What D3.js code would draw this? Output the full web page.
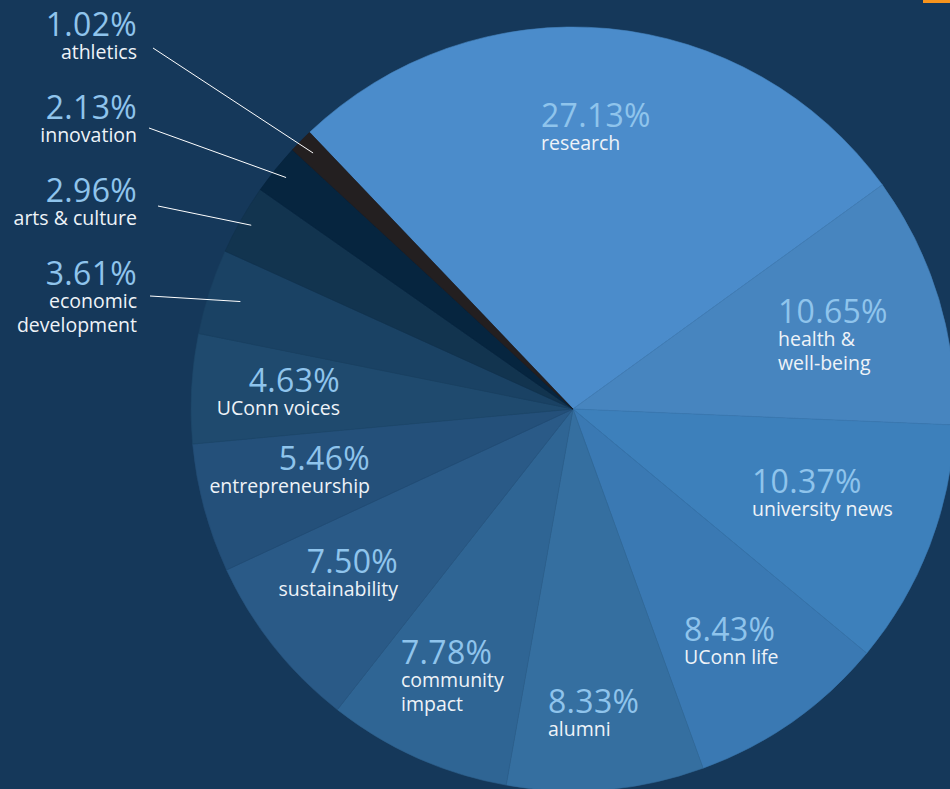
<!DOCTYPE html>
<html>
<head>
<meta charset="utf-8">
<script src="https://cdn.jsdelivr.net/npm/d3@7"></script>
<style>
  html, body { margin: 0; padding: 0; background: #15385a; overflow: hidden; }
  svg { display: block; }
  .pct { font-family: "Open Sans", sans-serif; font-weight: 400; font-size: 32px; fill: #8fc4ec; letter-spacing: 0.3px; }
  .lbl { font-family: "Open Sans", sans-serif; font-size: 19.5px; fill: #eef3f8; }
  .leader { stroke: #ffffff; stroke-width: 1; }
</style>
</head>
<body>
<script>
// topics, clockwise from the top of the pie
var categories = ['research', 'health &\nwell-being', 'university news', 'UConn life', 'alumni',
    'community\nimpact', 'sustainability', 'entrepreneurship', 'UConn voices',
    'economic\ndevelopment', 'arts & culture', 'innovation', 'athletics'];
var shares = [27.13, 10.65, 10.37, 8.43, 8.33, 7.78, 7.50, 5.46, 4.63, 3.61, 2.96, 2.13, 1.02];
var colors = ['#4b8ccb', '#4785bf', '#3d80bb', '#3a79b3', '#356fa0', '#2f6594', '#2a5a87',
    '#24507a', '#1f4a6e', '#1a4264', '#12344f', '#06253f', '#231f20'];

// label placement (anchor x, baseline of the percentage), leader lines for the thin slices
var labelSpots = [
    [541, 127, 'start'], [778, 323, 'start'], [752, 493, 'start'], [684, 641, 'start'],
    [548, 713, 'start'], [401, 664, 'start'], [398, 573, 'end'], [370, 470, 'end'],
    [340, 392, 'end'], [137, 285, 'end'], [137, 202, 'end'], [137, 119, 'end'], [137, 36, 'end']
];
var leaders = { 9: [150, 296, 0.915], 10: [158, 206, 0.97], 11: [149, 128, 0.965], 12: [153, 48, 0.955] };

var width = 950, height = 789,
    cx = 573, cy = 409,
    R = 382,
    startAngle = -43.6 * Math.PI / 180;

var svg = d3.select('body').append('svg')
    .attr('width', width)
    .attr('height', height);

svg.append('rect')
    .attr('width', width)
    .attr('height', height)
    .attr('fill', '#15385a');

// little orange tab in the top right corner
svg.append('rect')
    .attr('x', 923).attr('y', 0)
    .attr('width', 27).attr('height', 3)
    .attr('fill', '#f7941d');

var pie = d3.pie()
    .sort(null)
    .value(d => d)
    .startAngle(startAngle)
    .endAngle(startAngle + 2 * Math.PI);

var arcs = pie(shares);

var arc = d3.arc().innerRadius(0).outerRadius(R);

var g = svg.append('g')
    .attr('transform', 'translate(' + cx + ',' + cy + ')');

g.selectAll('path.slice')
    .data(arcs)
    .enter().append('path')
    .attr('class', 'slice')
    .attr('d', arc)
    .attr('fill', (d, i) => colors[i])
    .attr('stroke', (d, i) => d3.color(colors[i]).darker(0.15))
    .attr('stroke-width', 0.6);

// leader lines from the outside labels into their slices
Object.keys(leaders).forEach(function (k) {
    var i = +k, L = leaders[k];
    var r = R * L[2];
    var p = d3.arc().innerRadius(r).outerRadius(r).centroid(arcs[i]);
    svg.append('line')
        .attr('class', 'leader')
        .attr('x1', L[0]).attr('y1', L[1])
        .attr('x2', cx + p[0]).attr('y2', cy + p[1]);
});

var fmt = d3.format('.2f');

arcs.forEach(function (d, i) {
    var spot = labelSpots[i];
    var t = svg.append('g').attr('transform', 'translate(' + spot[0] + ',' + spot[1] + ')');
    t.append('text')
        .attr('class', 'pct')
        .attr('text-anchor', spot[2])
        .text(fmt(d.data) + '%');
    categories[i].split('\n').forEach(function (line, j) {
        t.append('text')
            .attr('class', 'lbl')
            .attr('text-anchor', spot[2])
            .attr('y', 23 + j * 24)
            .text(line);
    });
});
</script>
</body>
</html>
